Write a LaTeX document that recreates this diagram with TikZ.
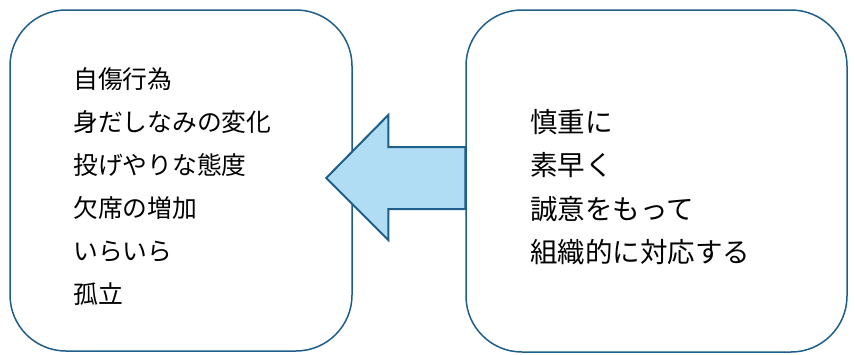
\documentclass[tikz,border=0pt]{standalone}
\usepackage{fontspec}
\usepackage{xcolor}
\usepackage{tikz}
\usetikzlibrary{calc, positioning}
\newfontfamily\jpfont{Noto Sans CJK JP}
\definecolor{panelBlue}{RGB}{30,94,138}
\definecolor{arrowFill}{RGB}{176,220,244}

\begin{document}
\begin{tikzpicture}[
      x=1pt, y=-1pt,
      panel/.style={
        rectangle,
        rounded corners=56pt,
        draw=panelBlue,
        line width=1.5pt,
        fill=white
      },
      item/.style={
        anchor=base west,
        inner sep=0pt,
        font=\jpfont\fontsize{24.8}{30}\selectfont
      },
      bigitem/.style={
        item,
        font=\jpfont\fontsize{27.5}{33}\selectfont
      },
      blockarrow/.style={
        draw=panelBlue,
        line width=2pt,
        fill=arrowFill,
        line join=miter
      }
    ]
    \useasboundingbox (0,0) rectangle (855,354);

    % Boxes
    \node (signsBox) [panel, minimum width=342pt, minimum height=341pt] at (181,180.5) {};
    \node (responseBox) [panel, minimum width=381pt, minimum height=342pt] at (656.5,181) {};

    % Left box lines
    \node (selfHarm) [item] at (73,88.5) {自傷行為};
    \node (appearance) [item] at (73,131.5) {身だしなみの変化};
    \node (attitude) [item] at (73,174.5) {投げやりな態度};
    \node (absence) [item] at (73,217.5) {欠席の増加};
    \node (irritation) [item] at (73,260.5) {いらいら};
    \node (isolation) [item] at (73,303.5) {孤立};

    % Right box lines
    \node (carefully) [bigitem] at (530,132.5) {慎重に};
    \node (quickly) [bigitem] at (530,175.8) {素早く};
    \node (sincerely) [bigitem] at (530,219) {誠意をもって};
    \node (organized) [bigitem] at (530,262.3) {組織的に対応する};

    % Block arrow from right box to left box
    \coordinate (arrowTail) at ($(responseBox.west)+(0,-3)$);
    \draw [blockarrow] ($(arrowTail)+(0,-31)$) -- ($(arrowTail)+(-77,-31)$)
      -- ($(arrowTail)+(-77,-63)$) -- ($(arrowTail)+(-139,0)$)
      -- ($(arrowTail)+(-77,62)$) -- ($(arrowTail)+(-77,31)$)
      -- ($(arrowTail)+(0,31)$) -- cycle;

\end{tikzpicture}
\end{document}
